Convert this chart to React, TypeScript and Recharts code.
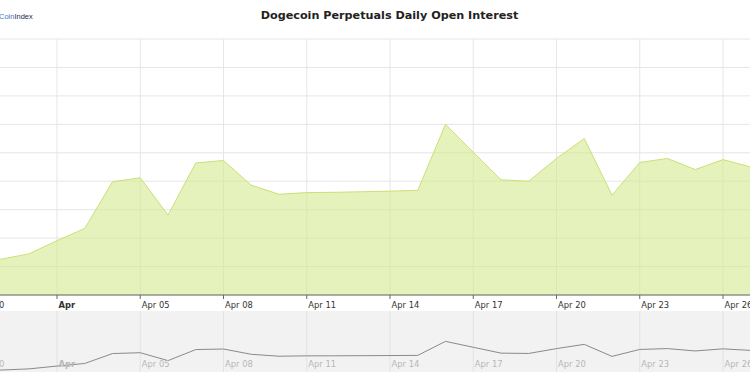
import React from 'react';
import { AreaChart, Area, LineChart, Line, XAxis, YAxis, CartesianGrid } from 'recharts';

// Day index: 0 = Mar 31, 1 = Apr 01, 2 = Apr 02 ...
const dayIndex = [-1, 0, 1, 2, 3, 4, 5, 6, 7, 8, 9, 10, 11, 12, 13, 14, 15, 16, 17, 18, 19, 20, 21, 22, 23, 24, 25, 26, 27];
const openInterest = [116, 126, 145, 191, 234, 398, 412, 281, 464, 473, 386, 354, 360, 361, 363, 365, 368, 600, 502, 405, 400, 480, 550, 351, 466, 480, 441, 476, 450];

const tickDays = [-1, 2, 5, 8, 11, 14, 17, 20, 23, 26];
const tickLabels = ['Mar 30', 'Apr', 'Apr 05', 'Apr 08', 'Apr 11', 'Apr 14', 'Apr 17', 'Apr 20', 'Apr 23', 'Apr 26'];
const yTicks = [0, 100, 200, 300, 400, 500, 600, 700, 800, 900];

const data = dayIndex.map((d, i) => ({ d, v: openInterest[i] }));

const X_DOMAIN: [number, number] = [-2.2162, 29.1351];
const FONT = '"DejaVu Sans", Verdana, sans-serif';

const labelFor = (v: number) => {
  const i = tickDays.indexOf(v);
  return i >= 0 ? tickLabels[i] : '';
};

const MainTick = (props: any) => {
  const { x, y, payload } = props;
  const label = labelFor(payload.value);
  return (
    <text x={x + 1.5} y={y} dy="0.78em" textAnchor="start" fontSize={8.4} fontFamily={FONT}
      fontWeight={label === 'Apr' ? 'bold' : 'normal'} fill="#333">
      {label}
    </text>
  );
};

const NavTick = (props: any) => {
  const { x, y, payload } = props;
  const label = labelFor(payload.value);
  return (
    <text x={x + 1.5} y={y} dy={-7.5} textAnchor="start" fontSize={8.4} fontFamily={FONT}
      fontWeight={label === 'Apr' ? 'bold' : 'normal'} fill="#b8b8b8">
      {label}
    </text>
  );
};

export default function App() {
  return (
    <div style={{ position: 'absolute', left: 0, top: 0, width: 750, height: 375, overflow: 'hidden', background: '#fff' }}>
      <div style={{ position: 'absolute', left: -1, top: 12, fontFamily: '"Liberation Sans", Arial, sans-serif', fontSize: 7.5, lineHeight: '10px', whiteSpace: 'nowrap' }}>
        <span style={{ color: '#3b78c2' }}>Coin</span><span style={{ color: '#1d2b4f' }}>Index</span>
      </div>
      <div style={{ position: 'absolute', left: 0, width: 779, top: 8, textAlign: 'center', fontFamily: FONT, fontWeight: 'bold', fontSize: 11.2, lineHeight: '15px', color: '#222', whiteSpace: 'nowrap' }}>
        Dogecoin Perpetuals Daily Open Interest
      </div>
      <div style={{ position: 'absolute', left: 0, top: 311, width: 750, height: 61, background: '#f2f2f2' }} />
      <div style={{ position: 'absolute', left: -60, top: 0 }}>
        <AreaChart width={870} height={375} data={data} margin={{ top: 39, right: 0, bottom: 60, left: 0 }}>
          <CartesianGrid stroke="#e6e6e6" />
          <XAxis type="number" dataKey="d" domain={X_DOMAIN} allowDataOverflow ticks={tickDays} interval={0}
            height={20} stroke="#666" tickSize={4} tick={<MainTick />} />
          <YAxis hide domain={[0, 900]} ticks={yTicks} />
          <Area type="linear" dataKey="v" stroke="#cbe074" strokeWidth={1} fill="#d4e98f" fillOpacity={0.6}
            dot={false} activeDot={false} isAnimationActive={false} />
        </AreaChart>
      </div>
      <div style={{ position: 'absolute', left: -60, top: 311 }}>
        <LineChart width={870} height={64} data={data} margin={{ top: 0, right: 0, bottom: 0, left: 0 }}>
          <CartesianGrid stroke="#e2e2e2" horizontal={false} />
          <XAxis type="number" dataKey="d" domain={X_DOMAIN} allowDataOverflow ticks={tickDays} interval={0}
            height={3} axisLine={false} tickLine={false} tickSize={0} tick={<NavTick />} />
          <YAxis hide domain={[93, 1102]} allowDataOverflow />
          <Line type="linear" dataKey="v" stroke="#8a8a8a" strokeWidth={1} dot={false} activeDot={false} isAnimationActive={false} />
        </LineChart>
      </div>
    </div>
  );
}
